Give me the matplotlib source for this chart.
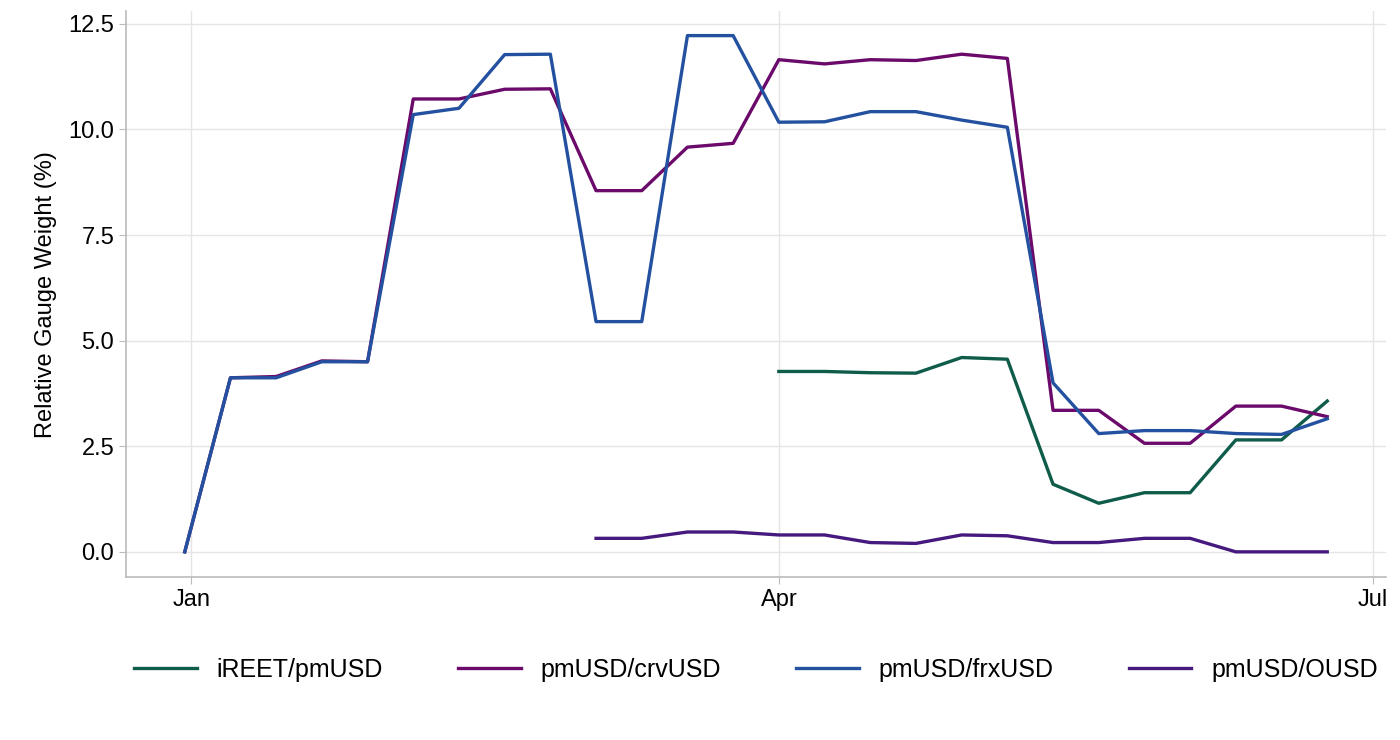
import matplotlib
matplotlib.use("Agg")
import matplotlib.pyplot as plt
import pandas as pd

plt.rcParams['font.family'] = ['Liberation Sans', 'DejaVu Sans']

dates = pd.date_range("2024-12-31", periods=26, freq="7D")
crvusd = [0, 4.12, 4.15, 4.52, 4.5, 10.72, 10.72, 10.95, 10.96, 8.55, 8.55, 9.58, 9.67,
          11.65, 11.55, 11.65, 11.63, 11.78, 11.68, 3.35, 3.35, 2.57, 2.57, 3.45, 3.45, 3.2]
frxusd = [0, 4.12, 4.12, 4.5, 4.5, 10.35, 10.5, 11.77, 11.78, 5.45, 5.45, 12.22, 12.22,
          10.17, 10.18, 10.42, 10.42, 10.22, 10.05, 4.0, 2.8, 2.87, 2.87, 2.8, 2.78, 3.15]
ireet = [4.27, 4.27, 4.24, 4.23, 4.6, 4.56, 1.6, 1.15, 1.4, 1.4, 2.65, 2.65, 3.57]
ousd = [0.32, 0.32, 0.47, 0.47, 0.4, 0.4, 0.22, 0.2, 0.4, 0.38, 0.22, 0.22, 0.32, 0.32, 0, 0, 0]

fig, ax = plt.subplots(figsize=(14, 7.4), dpi=100)
fig.subplots_adjust(left=0.09, right=0.99, top=0.985, bottom=0.22)
lw = 2.4
ax.plot(dates[13:], ireet, color="#0f5c4a", lw=lw, label="iREET/pmUSD")
ax.plot(dates, crvusd, color="#6b0a6b", lw=lw, label="pmUSD/crvUSD")
ax.plot(dates, frxusd, color="#2351a0", lw=lw, label="pmUSD/frxUSD")
ax.plot(dates[9:], ousd, color="#45197e", lw=lw, label="pmUSD/OUSD")

ax.set_xlim(pd.Timestamp("2024-12-22"), pd.Timestamp("2025-07-03"))
ax.set_ylim(-0.6, 12.8)
ax.set_yticks([0, 2.5, 5, 7.5, 10, 12.5])
ax.set_yticklabels(["0.0", "2.5", "5.0", "7.5", "10.0", "12.5"])
ax.set_xticks([pd.Timestamp("2025-01-01"), pd.Timestamp("2025-04-01"), pd.Timestamp("2025-07-01")])
ax.set_xticklabels(["Jan", "Apr", "Jul"])
ax.tick_params(labelsize=17, colors="black", length=5, color="#bbbbbb")
ax.set_ylabel("Relative Gauge Weight (%)", fontsize=17, labelpad=8)
ax.grid(True, color="#e5e5e5", lw=1)
ax.set_axisbelow(True)
for s in ["top", "right"]:
    ax.spines[s].set_visible(False)
for s in ["left", "bottom"]:
    ax.spines[s].set_color("#bbbbbb")
    ax.spines[s].set_linewidth(1.2)
fig.legend(*ax.get_legend_handles_labels(), loc="center", bbox_to_anchor=(0.54, 0.095), ncol=4,
           frameon=False, fontsize=18, handlelength=2.5, columnspacing=3.0)
fig.savefig("out.png")
